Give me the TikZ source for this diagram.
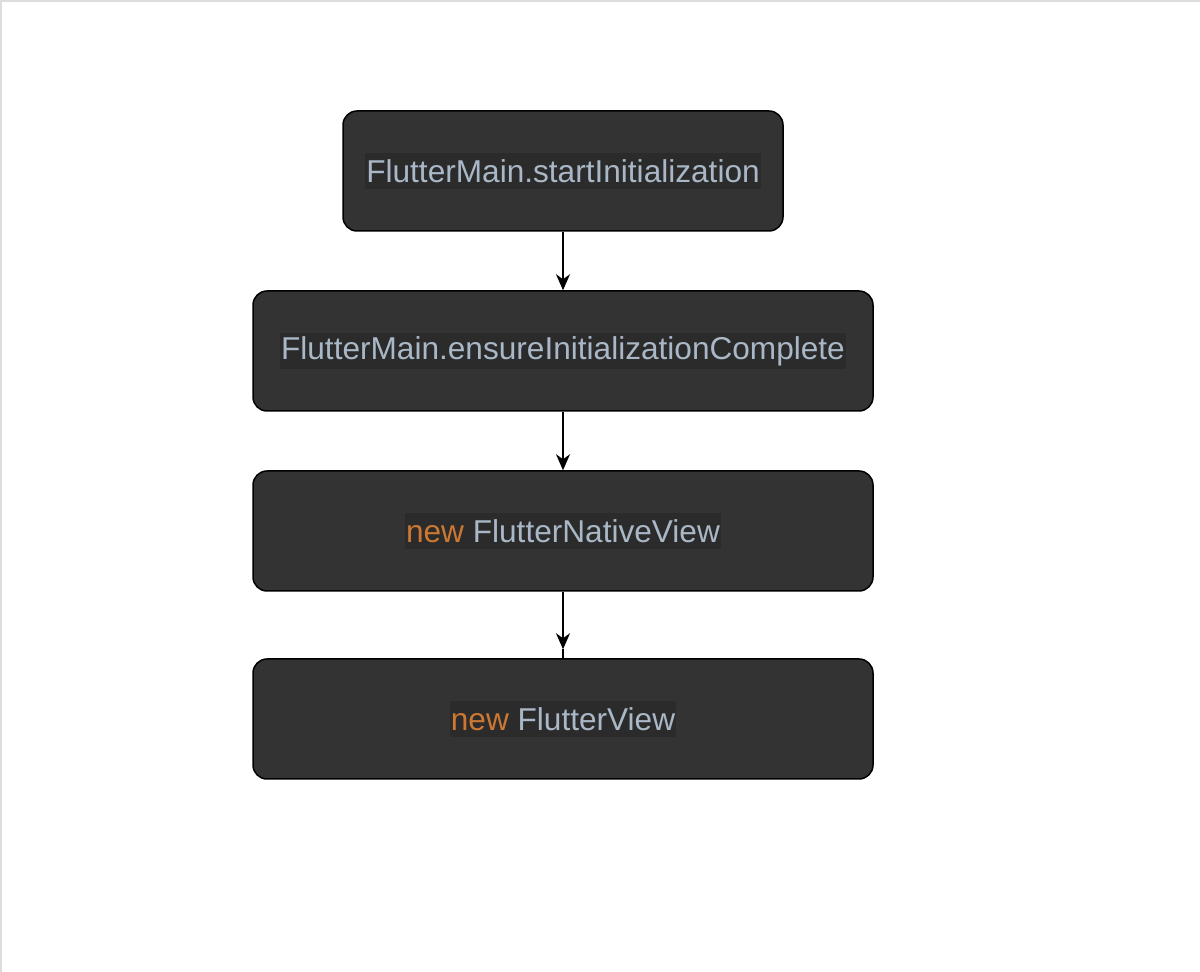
\documentclass[tikz,border=0pt]{standalone}
\usepackage{fontspec}
\setmainfont{Liberation Sans}
\usetikzlibrary{arrows.meta}
\definecolor{boxfill}{HTML}{333333}
\definecolor{hlbg}{HTML}{2B2B2B}
\definecolor{codefg}{HTML}{A9B7C6}
\definecolor{kwfg}{HTML}{CC7832}
\definecolor{frameg}{HTML}{DDDDDD}
\begin{document}
\begin{tikzpicture}[x=0.5pt,y=-0.5pt,
  stepbox/.style={draw=black,line width=0.75pt,fill=boxfill,rounded corners=7pt,minimum height=60pt,inner sep=0pt},
  hl/.style={fill=hlbg,text=codefg,inner xsep=0.5pt,inner ysep=0pt,minimum height=18pt,font=\fontsize{15.8}{18}\selectfont},
  conn/.style={line width=0.75pt,-{Stealth[length=8pt,width=7pt,inset=2.5pt]}}]
\useasboundingbox (0,0) rectangle (1200,972);
\fill[white] (0,0) rectangle (1200,972);
\draw[frameg,line width=1pt] (1,972) -- (1,1) -- (1200,1);
\node[stepbox,minimum width=220pt] (b1) at (563,171) {};
\node[stepbox,minimum width=310pt] (b2) at (563,351) {};
\node[stepbox,minimum width=310pt] (b3) at (563,531) {};
\node[stepbox,minimum width=310pt] (b4) at (563,719) {};
\node[hl] (t1) at (b1) {FlutterMain.startInitialization};
\node[hl] (t2) at (b2) {FlutterMain.ensureInitializationComplete};
\node[hl] (t3) at (b3) {\textcolor{kwfg}{new} FlutterNativeView};
\node[hl] (t4) at (b4) {\textcolor{kwfg}{new} FlutterView};
\draw[conn] (b1.south) -- (b2.north);
\draw[conn] (b2.south) -- (b3.north);
\coordinate (a4) at ([yshift=4.5pt]b4.north);
\draw[conn] (b3.south) -- (a4);
\draw[line width=0.75pt] (a4) -- (b4.north);
\end{tikzpicture}
\end{document}
